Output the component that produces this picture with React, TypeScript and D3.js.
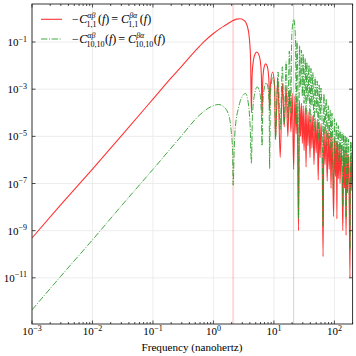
import React from 'react';
import * as d3 from 'd3';

const W = 356;
const H = 356;
const plot = { left: 32, right: 352.6, top: 4, bottom: 324 };

const xDomain = [1e-3, 200];
const yDomain = [1.1e-13, 4.1];
const xTickExps = [-3, -2, -1, 0, 1, 2];
const yTickExps = [-11, -9, -7, -5, -3, -1];
// frequencies of the two reference vertical lines (1/T and 10/T)
const refFreqs = [2.12, 21.2];

// [frequency, log10 value]
const redPoints: [number, number][] = [
  [0.001, -9.31], [0.003, -7.9], [0.01, -6.39], [0.03, -4.98], [0.1, -3.42], [0.2, -2.52],
  [0.3, -2.02], [0.5, -1.38], [0.7, -0.98], [1.0, -0.64], [1.3, -0.42], [1.6, -0.28],
  [2.0, -0.12], [2.4, -0.03], [2.8, -0.01], [3.2, -0.08], [3.45, -0.18], [3.65, -0.35],
  [3.85, -0.65], [4.0, -1.1], [4.12, -1.8], [4.24, -4.0],
  [4.36, -2.4], [4.6, -1.75], [4.9, -1.5], [5.2, -1.42], [5.6, -1.52], [5.95, -1.8], [6.2, -2.4], [6.36, -4.1],
  [6.55, -2.6], [6.9, -2.05], [7.3, -1.92], [7.8, -2.05], [8.25, -2.6], [8.48, -3.9],
  [8.75, -2.85], [9.5, -2.27], [10.25, -2.8], [10.6, -5.1],
  [11.6, -2.55], [12.7, -5.9], [13.8, -2.75], [14.8, -4.6], [15.9, -2.92], [17.0, -5.0],
  [18.0, -3.04], [19.1, -4.8], [20.1, -3.17], [21.2, -6.4], [22.2, -3.3], [23.3, -4.9],
  [24.2, -3.4], [25.5, -9.0], [26.5, -3.5], [27.5, -5.0], [28.5, -3.6], [29.5, -5.3],
  [30.5, -3.7], [31.5, -5.6], [33, -3.8], [34, -6.3], [35, -3.88], [36.5, -5.4],
  [38, -3.96], [39.5, -5.9], [41, -4.05], [42.5, -5.5], [44, -4.14], [46, -6.2],
  [48, -4.22], [50, -5.7], [52, -4.3], [54, -6.85], [56, -4.38], [58, -5.9],
  [60, -4.47], [63, -6.3], [65, -10.1], [67, -4.6], [70, -6.2], [73, -4.72],
  [76, -6.9], [79, -4.82], [82, -6.4], [85, -4.9], [88, -7.2], [91, -5.0],
  [94, -6.5], [97, -8.4], [100, -5.12], [104, -6.7], [108, -5.22], [110, -8.5],
  [112, -5.26], [116, -6.8], [120, -5.34], [124, -7.0], [129, -5.42], [134, -6.9],
  [138, -9.0], [142, -5.56], [147, -7.2], [151, -5.62], [156, -9.2], [160, -5.7],
  [165, -7.4], [170, -5.78], [175, -7.0], [181, -11.0], [185, -5.88], [190, -7.3],
  [195, -5.94], [200, -6.9],
];

const greenPoints: [number, number][] = [
  [0.001, -12.36], [0.003, -10.93], [0.01, -9.39], [0.03, -7.95], [0.1, -6.4], [0.285, -5.03],
  [0.6, -4.08], [0.9, -3.75], [1.22, -3.65], [1.48, -3.75], [1.79, -4.1], [1.96, -4.74],
  [2.07, -5.6], [2.12, -7.07],
  [2.2, -5.6], [2.28, -4.74], [2.62, -3.75], [3.0, -3.3], [3.39, -3.18], [3.84, -3.75], [4.05, -4.6], [4.24, -6.15],
  [4.42, -4.1], [4.8, -3.2], [5.3, -2.9], [5.85, -3.15], [6.2, -4.0], [6.36, -5.4],
  [6.6, -3.5], [7.0, -2.9], [7.45, -2.73], [8.0, -2.95], [8.35, -3.7], [8.48, -6.36],
  [8.8, -3.1], [9.6, -2.48], [10.3, -3.0], [10.6, -5.16],
  [11.7, -2.27], [12.7, -4.7], [13.8, -2.05], [14.8, -4.5], [15.9, -1.84], [17.0, -4.2],
  [18.0, -1.38], [19.1, -4.0], [19.6, -1.0], [20.2, -0.35], [21.2, -0.04], [22.2, -0.38],
  [22.8, -1.05], [23.3, -4.5],
  [24.0, -0.95], [24.8, -2.8], [25.5, -8.5], [26.5, -1.15], [27.5, -2.9], [28.5, -1.35],
  [29.5, -3.3], [30.5, -1.5], [31.5, -3.6], [33, -1.7], [34, -4.1], [35, -1.85],
  [36.5, -3.5], [38, -1.98], [39.5, -4.4], [41, -2.12], [42.5, -3.7], [44, -2.3],
  [46, -4.8], [48, -2.48], [50, -4.0], [52, -2.65], [54, -5.2], [56, -2.82],
  [58, -4.3], [60, -2.95], [63, -5.0], [65, -8.8], [67, -3.2], [70, -4.9],
  [73, -3.42], [76, -5.4], [79, -3.7], [82, -5.1], [85, -3.88], [88, -5.6],
  [91, -4.02], [94, -5.3], [97, -7.5], [100, -4.25], [104, -5.9], [108, -4.42],
  [112, -5.6], [116, -4.55], [120, -6.1], [124, -4.72], [129, -5.9], [134, -4.82],
  [138, -8.0], [142, -4.88], [147, -6.3], [151, -4.97], [156, -8.5], [160, -5.05],
  [165, -6.4], [170, -5.12], [175, -6.6], [181, -9.8], [185, -5.22], [190, -6.5],
  [195, -5.27], [200, -6.2],
];

const RED = '#ff0000';
const GREEN = '#2ca02c';
const FONT = 'Liberation Serif, DejaVu Serif, serif';
const MINUS = '\u2212';

function LegendLabel({ x, y, sub }: { x: number; y: number; sub: string }) {
  const long = sub.length > 3;
  return (
    <text x={x} y={y}>
      {MINUS}<tspan dx={0.5} fontStyle="italic">C</tspan>
      <tspan fontSize={8} dy={-5} fontStyle="italic">αβ</tspan>
      <tspan fontSize={8} dx={-9} dy={8.5}>{sub}</tspan>
      <tspan dx={long ? 0.5 : 1.5} dy={-3.5}>(</tspan><tspan fontStyle="italic">f</tspan>)
      <tspan dx={2}>=</tspan>
      <tspan dx={3} fontStyle="italic">C</tspan>
      <tspan fontSize={8} dy={-5} fontStyle="italic">βα</tspan>
      <tspan fontSize={8} dx={-9} dy={8.5}>{sub}</tspan>
      <tspan dx={long ? 0.5 : 1.5} dy={-3.5}>(</tspan><tspan fontStyle="italic">f</tspan>)
    </text>
  );
}

export default function App() {
  const x = d3.scaleLog().domain(xDomain).range([plot.left, plot.right]);
  const y = d3.scaleLog().domain(yDomain).range([plot.bottom, plot.top]);

  const line = d3
    .line<[number, number]>()
    .x(d => x(d[0]))
    .y(d => y(Math.pow(10, d[1])))
    .curve(d3.curveMonotoneX);

  const xTicks = x.ticks();
  const xMinor = xTicks.filter(t => !xTickExps.some(e => Math.abs(Math.log10(t) - e) < 1e-6));

  const pw = plot.right - plot.left;
  const ph = plot.bottom - plot.top;

  return (
    <svg width={W} height={H} style={{ position: 'absolute', left: 0, top: 0, background: '#fff' }}>
      <defs>
        <clipPath id="plotClip">
          <rect x={plot.left} y={plot.top} width={pw} height={ph} />
        </clipPath>
      </defs>

      {/* grid */}
      <g stroke="#e8e8e8" strokeWidth={0.8}>
        {xTickExps.map(e => (
          <line key={'gx' + e} x1={x(Math.pow(10, e))} x2={x(Math.pow(10, e))} y1={plot.top} y2={plot.bottom} />
        ))}
        {yTickExps.map(e => (
          <line key={'gy' + e} x1={plot.left} x2={plot.right} y1={y(Math.pow(10, e))} y2={y(Math.pow(10, e))} />
        ))}
      </g>

      {/* reference lines */}
      <line x1={x(refFreqs[0])} x2={x(refFreqs[0])} y1={plot.top} y2={plot.bottom} stroke={RED} strokeOpacity={0.15} strokeWidth={2} />
      <line x1={x(refFreqs[1])} x2={x(refFreqs[1])} y1={plot.top} y2={plot.bottom} stroke={GREEN} strokeOpacity={0.3} strokeWidth={1} />

      <g clipPath="url(#plotClip)" fill="none">
        <path d={line(redPoints) || ''} stroke={RED} strokeOpacity={0.8} strokeWidth={1.1} />
        <path d={line(greenPoints) || ''} stroke={GREEN} strokeOpacity={0.9} strokeWidth={1} strokeDasharray="6.4 1.6 1 1.6" />
      </g>

      {/* frame */}
      <rect x={plot.left} y={plot.top} width={pw} height={ph} fill="none" stroke="#222" strokeWidth={0.9} />

      {/* ticks */}
      <g stroke="#222" strokeWidth={0.8}>
        {xTickExps.map(e => {
          const px = x(Math.pow(10, e));
          return (
            <g key={'tx' + e}>
              <line x1={px} x2={px} y1={plot.bottom} y2={plot.bottom - 3.5} />
              <line x1={px} x2={px} y1={plot.top} y2={plot.top + 3.5} />
            </g>
          );
        })}
        {xMinor.map((t, i) => {
          const px = x(t);
          return (
            <g key={'mx' + i}>
              <line x1={px} x2={px} y1={plot.bottom} y2={plot.bottom - 2} />
              <line x1={px} x2={px} y1={plot.top} y2={plot.top + 2} />
            </g>
          );
        })}
        {yTickExps.map(e => {
          const py = y(Math.pow(10, e));
          return (
            <g key={'ty' + e}>
              <line x1={plot.left} x2={plot.left + 3.5} y1={py} y2={py} />
              <line x1={plot.right} x2={plot.right - 3.5} y1={py} y2={py} />
            </g>
          );
        })}
      </g>

      {/* tick labels */}
      <g fontFamily={FONT} fontSize={11} fill="#000">
        {xTickExps.map(e => (
          <text key={'lx' + e} x={x(Math.pow(10, e))} y={335} textAnchor="middle">
            10<tspan fontSize={8} dy={-4.5}>{e < 0 ? MINUS + Math.abs(e) : String(e)}</tspan>
          </text>
        ))}
        {yTickExps.map(e => (
          <text key={'ly' + e} x={27} y={y(Math.pow(10, e)) + 4} textAnchor="end">
            10<tspan fontSize={8} dy={-4.5}>{MINUS + Math.abs(e)}</tspan>
          </text>
        ))}
        <text x={192} y={351} textAnchor="middle" textLength={101} lengthAdjust="spacingAndGlyphs">
          Frequency (nanohertz)
        </text>
      </g>

      {/* legend */}
      <g fontFamily={FONT} fontSize={12} fill="#000">
        <line x1={41} x2={62} y1={19.3} y2={19.3} stroke={RED} strokeOpacity={0.8} strokeWidth={1.1} />
        <line x1={41} x2={62} y1={39} y2={39} stroke={GREEN} strokeOpacity={0.9} strokeWidth={1} strokeDasharray="6.4 1.6 1 1.6" />
        <LegendLabel x={72} y={23} sub="1,1" />
        <LegendLabel x={72} y={43} sub="10,10" />
      </g>
    </svg>
  );
}
